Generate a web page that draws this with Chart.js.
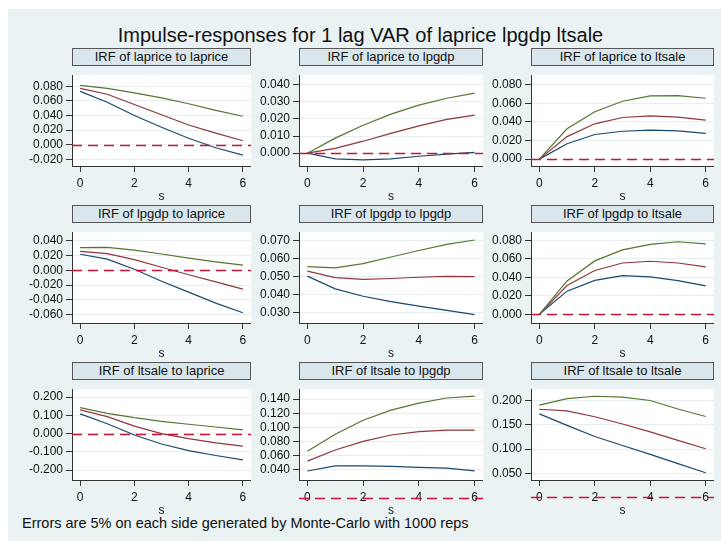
<!DOCTYPE html>
<html>
<head>
<meta charset="utf-8">
<script src="https://cdn.jsdelivr.net/npm/chart.js@4.4.1/dist/chart.umd.min.js"></script>
<style>
  body { margin: 0; width: 721px; height: 543px; background: #fff; position: relative; overflow: hidden;
         font-family: "Liberation Sans", Arial, sans-serif; color: #111; }
  #bg { position: absolute; left: 8px; top: 9px; right: 0; bottom: 2px; background: #eaf2f3; }
  #title { position: absolute; left: 0; width: 721px; top: 24px; text-align: center; font-size: 20px; }
  .box { position: absolute; height: 18px; box-sizing: border-box; border: 1px solid #555; background: #d9e6eb;
         font-size: 13px; line-height: 16px; text-align: center; white-space: nowrap; }
  canvas { position: absolute; }
  #note { position: absolute; left: 22px; top: 515px; font-size: 14.5px; white-space: nowrap; }
</style>
</head>
<body>
<div id="bg"></div>
<div id="title">Impulse-responses for 1 lag VAR of laprice lpgdp ltsale</div>
<div id="note">Errors are 5% on each side generated by Monte-Carlo with 1000 reps</div>
<script>
// steps and x tick labels
const steps = [0, 1, 2, 3, 4, 5, 6];
const xTicks = [0, 2, 4, 6];

// row 1: response of laprice
const lapLapLo  = [0.073, 0.058, 0.040, 0.024, 0.009, -0.004, -0.014];
const lapLapIrf = [0.077, 0.069, 0.055, 0.041, 0.027, 0.016, 0.0056];
const lapLapHi  = [0.081, 0.077, 0.071, 0.064, 0.056, 0.047, 0.039];
const lapLapTicks = [-0.02, 0, 0.02, 0.04, 0.06, 0.08];

const lapGdpLo  = [0, -0.0033, -0.0039, -0.0033, -0.0018, -0.0005, 0.0005];
const lapGdpIrf = [0, 0.0028, 0.0070, 0.0116, 0.0160, 0.0198, 0.0223];
const lapGdpHi  = [0, 0.0088, 0.0163, 0.0228, 0.0281, 0.0321, 0.0351];
const lapGdpTicks = [0, 0.01, 0.02, 0.03, 0.04];

const lapSaleLo  = [0, 0.0165, 0.0265, 0.0300, 0.0313, 0.0303, 0.0277];
const lapSaleIrf = [0, 0.0242, 0.0380, 0.0448, 0.0465, 0.0452, 0.0420];
const lapSaleHi  = [0, 0.0326, 0.0510, 0.0623, 0.0680, 0.0684, 0.0655];
const lapSaleTicks = [0, 0.02, 0.04, 0.06, 0.08];

// row 2: response of lpgdp
const gdpLapLo  = [0.0215, 0.0150, 0.0012, -0.0150, -0.0296, -0.0445, -0.0575];
const gdpLapIrf = [0.0255, 0.0223, 0.0142, 0.0040, -0.0061, -0.0158, -0.0255];
const gdpLapHi  = [0.0304, 0.0308, 0.0271, 0.0219, 0.0162, 0.0113, 0.0069];
const gdpLapTicks = [-0.06, -0.04, -0.02, 0, 0.02, 0.04];

const gdpGdpLo  = [0.0503, 0.0433, 0.0392, 0.0362, 0.0337, 0.0314, 0.0290];
const gdpGdpIrf = [0.0531, 0.0495, 0.0485, 0.0490, 0.0497, 0.0502, 0.0500];
const gdpGdpHi  = [0.0556, 0.0549, 0.0572, 0.0609, 0.0645, 0.0679, 0.0703];
const gdpGdpTicks = [0.03, 0.04, 0.05, 0.06, 0.07];

const gdpSaleLo  = [0, 0.0250, 0.0366, 0.0418, 0.0405, 0.0363, 0.0308];
const gdpSaleIrf = [0, 0.0311, 0.0473, 0.0554, 0.0573, 0.0554, 0.0512];
const gdpSaleHi  = [0, 0.0360, 0.0577, 0.0696, 0.0755, 0.0784, 0.0761];
const gdpSaleTicks = [0, 0.02, 0.04, 0.06, 0.08];

// row 3: response of ltsale
const saleLapLo  = [0.108, 0.054, -0.008, -0.057, -0.093, -0.120, -0.144];
const saleLapIrf = [0.1295, 0.093, 0.041, 0.000, -0.028, -0.051, -0.069];
const saleLapHi  = [0.1426, 0.111, 0.087, 0.067, 0.051, 0.036, 0.020];
const saleLapTicks = [-0.2, -0.1, 0, 0.1, 0.2];

const saleGdpLo  = [0.0378, 0.0450, 0.0450, 0.0445, 0.0430, 0.0420, 0.0380];
const saleGdpIrf = [0.0518, 0.0677, 0.0800, 0.0890, 0.0938, 0.0960, 0.0960];
const saleGdpHi  = [0.0660, 0.0900, 0.1100, 0.1245, 0.1344, 0.1417, 0.1443];
const saleGdpTicks = [0.04, 0.06, 0.08, 0.10, 0.12, 0.14];

const saleSaleLo  = [0.173, 0.149, 0.126, 0.1075, 0.089, 0.070, 0.051];
const saleSaleIrf = [0.1825, 0.179, 0.167, 0.152, 0.1356, 0.118, 0.1006];
const saleSaleHi  = [0.191, 0.2044, 0.2094, 0.2075, 0.2006, 0.183, 0.1675];
const saleSaleTicks = [0.05, 0.10, 0.15, 0.20];

const panelTitles = [
  'IRF of laprice to laprice', 'IRF of laprice to lpgdp', 'IRF of laprice to ltsale',
  'IRF of lpgdp to laprice', 'IRF of lpgdp to lpgdp', 'IRF of lpgdp to ltsale',
  'IRF of ltsale to laprice', 'IRF of ltsale to lpgdp', 'IRF of ltsale to ltsale'
];

// plot area layout
const colLeft = [72, 299, 531];
const colRight = [251, 483, 714];
const rowBoxTop = [48, 205, 362];
const boxH = 17;
const plotH = 101;
const yAxisW = 70;
const xAxisH = 38;

const panels = [
  { lo: lapLapLo, irf: lapLapIrf, hi: lapLapHi, ticks: lapLapTicks, min: -0.0289, max: 0.095 },
  { lo: lapGdpLo, irf: lapGdpIrf, hi: lapGdpHi, ticks: lapGdpTicks, min: -0.0075, max: 0.0456 },
  { lo: lapSaleLo, irf: lapSaleIrf, hi: lapSaleHi, ticks: lapSaleTicks, min: -0.0074, max: 0.0903 },
  { lo: gdpLapLo, irf: gdpLapIrf, hi: gdpLapHi, ticks: gdpLapTicks, min: -0.0713, max: 0.0513 },
  { lo: gdpGdpLo, irf: gdpGdpIrf, hi: gdpGdpHi, ticks: gdpGdpTicks, min: 0.0244, max: 0.0746 },
  { lo: gdpSaleLo, irf: gdpSaleIrf, hi: gdpSaleHi, ticks: gdpSaleTicks, min: -0.0094, max: 0.0887 },
  { lo: saleLapLo, irf: saleLapIrf, hi: saleLapHi, ticks: saleLapTicks, min: -0.254, max: 0.243 },
  { lo: saleGdpLo, irf: saleGdpIrf, hi: saleGdpHi, ticks: saleGdpTicks, min: 0.025, max: 0.1542 },
  { lo: saleSaleLo, irf: saleSaleIrf, hi: saleSaleHi, ticks: saleSaleTicks, min: 0.036, max: 0.224 }
];

const NAVY = 'rgb(26,71,111)';
const MAROON = 'rgb(144,53,59)';
const GREEN = 'rgb(85,117,47)';
const ZERO = 'rgb(200,20,55)';
const AXIS = '#333';
const FONT = '"Liberation Sans", Arial, sans-serif';

// white plot region
const plotBg = {
  id: 'plotBg',
  beforeDraw(chart) {
    const a = chart.chartArea;
    chart.ctx.save();
    chart.ctx.fillStyle = '#fff';
    chart.ctx.fillRect(a.left, a.top, a.right - a.left, a.bottom - a.top);
    chart.ctx.restore();
  }
};

// dashed line at zero, drawn even when zero lies outside the plot
const zeroLine = {
  id: 'zeroLine',
  afterDraw(chart) {
    const y = Math.round(chart.scales.y.getPixelForValue(0)) + 0.5;
    const ctx = chart.ctx;
    ctx.save();
    ctx.strokeStyle = ZERO;
    ctx.lineWidth = 1.3;
    ctx.setLineDash([10, 6]);
    ctx.beginPath();
    ctx.moveTo(chart.chartArea.left, y);
    ctx.lineTo(chart.chartArea.right, y);
    ctx.stroke();
    ctx.restore();
  }
};

function line(data, color) {
  return {
    data: steps.map((s, i) => ({ x: s, y: data[i] })),
    borderColor: color,
    borderWidth: 1.2,
    pointRadius: 0,
    tension: 0,
    fill: false
  };
}

panels.forEach((p, i) => {
  const col = i % 3, row = Math.floor(i / 3);
  const left = colLeft[col], right = colRight[col];
  const plotTop = rowBoxTop[row] + boxH;

  const box = document.createElement('div');
  box.className = 'box';
  box.style.left = left + 'px';
  box.style.top = rowBoxTop[row] + 'px';
  box.style.width = (right - left) + 'px';
  box.textContent = panelTitles[i];
  document.body.appendChild(box);

  const cv = document.createElement('canvas');
  const w = right - left + yAxisW, h = plotH + xAxisH;
  cv.width = w; cv.height = h;
  cv.style.left = (left - yAxisW) + 'px';
  cv.style.top = plotTop + 'px';
  cv.style.width = w + 'px'; cv.style.height = h + 'px';
  document.body.appendChild(cv);

  new Chart(cv.getContext('2d'), {
    type: 'line',
    data: { datasets: [line(p.hi, GREEN), line(p.irf, MAROON), line(p.lo, NAVY)] },
    options: {
      responsive: false,
      animation: false,
      devicePixelRatio: 1,
      layout: { padding: 0 },
      plugins: { legend: { display: false }, tooltip: { enabled: false } },
      scales: {
        x: {
          type: 'linear', min: -0.3, max: 6.3,
          afterBuildTicks: s => { s.ticks = xTicks.map(v => ({ value: v })); },
          afterFit: s => { s.height = xAxisH; },
          grid: { drawOnChartArea: false, drawTicks: true, tickLength: 6, tickColor: AXIS },
          border: { display: true, color: AXIS, width: 1 },
          ticks: { padding: 4, color: '#111', font: { family: FONT, size: 12 }, maxRotation: 0 },
          title: { display: true, text: 's', color: '#111', padding: { top: 0, bottom: 0 },
                   font: { family: FONT, size: 12 } }
        },
        y: {
          type: 'linear', min: p.min, max: p.max,
          afterBuildTicks: s => { s.ticks = p.ticks.map(v => ({ value: v })); },
          afterFit: s => { s.width = yAxisW; },
          grid: { color: '#e6eef0', lineWidth: 1, tickLength: 6, tickColor: AXIS },
          border: { display: true, color: AXIS, width: 1 },
          ticks: { padding: 3, color: '#111', font: { family: FONT, size: 12 },
                   callback: v => v.toFixed(3) }
        }
      }
    },
    plugins: [plotBg, zeroLine]
  });
});
</script>
</body>
</html>
